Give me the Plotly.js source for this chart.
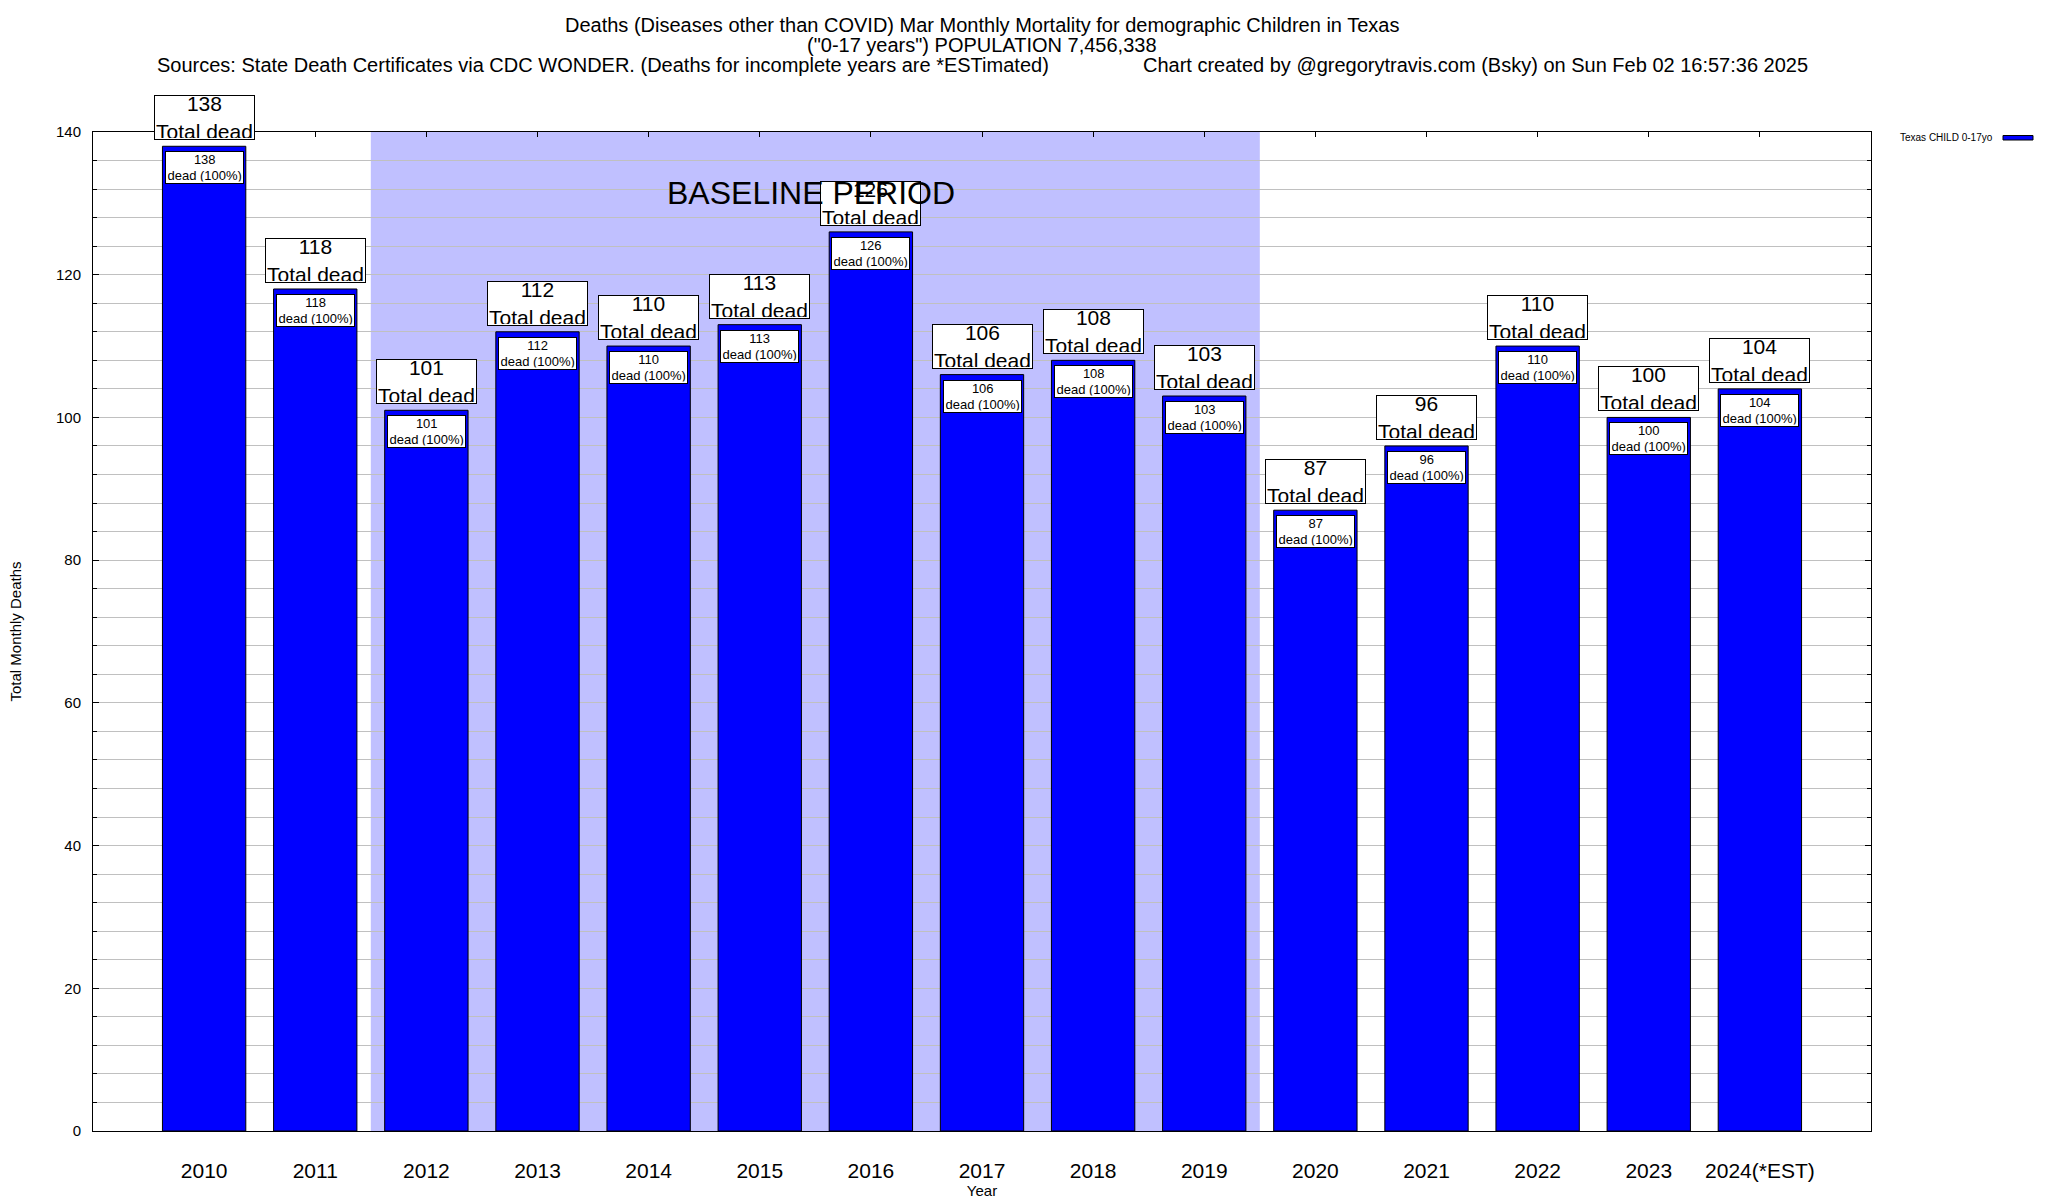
<!DOCTYPE html>
<html>
<head>
<meta charset="utf-8">
<script src="https://cdn.plot.ly/plotly-3.0.1.min.js"></script>
<style>html,body{margin:0;padding:0;background:#fff;}#chart{width:2048px;height:1200px;}</style>
</head>
<body>
<div id="chart"></div>
<script>
// ---- data ----
const years = ["2010","2011","2012","2013","2014","2015","2016","2017","2018","2019","2020","2021","2022","2023","2024(*EST)"];
const deaths = [138,118,101,112,110,113,126,106,108,103,87,96,110,100,104];
const pctLabels = ["100%","100%","100%","100%","100%","100%","100%","100%","100%","100%","100%","100%","100%","100%","100%"];
const seriesName = "Texas CHILD 0-17yo";
const baselineStart = "2012";
const baselineEnd = "2019";
const baselineLabel = "BASELINE PERIOD";
const titleLines = [
  "Deaths (Diseases other than COVID) Mar Monthly Mortality for demographic Children in Texas",
  "(\"0-17 years\") POPULATION 7,456,338",
  "Sources: State Death Certificates via CDC WONDER. (Deaths for incomplete years are *ESTimated)",
  "Chart created by @gregorytravis.com (Bsky) on Sun Feb 02 16:57:36 2025"
];

// ---- layout geometry ----
const W = 2048, H = 1200;
const M = {l: 93, r: 177, t: 132, b: 69, pad: 0};
const PW = W - M.l - M.r, PH = H - M.t - M.b;
const Y_MAX = 140;
const pxPerUnit = PH / Y_MAX;
const px = x => (x - M.l) / PW;          // pixel -> paper x
const py = y => (H - M.b - y) / PH;      // pixel -> paper y
const FONT = "Liberation Sans, Arial, Helvetica, sans-serif";

const trace = {
  type: "bar",
  x: years,
  y: deaths,
  name: seriesName,
  width: 0.75,
  marker: {color: "#0000ff", line: {color: "#000000", width: 1}},
  showlegend: false,
  hoverinfo: "x+y"
};

const annotations = [];
// inner labels (anchored at bar top, shifted down)
years.forEach((yr, i) => {
  annotations.push({
    x: i, y: deaths[i], xref: "x", yref: "y", yshift: -3 * pxPerUnit,
    text: deaths[i] + "<br>dead (" + pctLabels[i] + ")",
    showarrow: false, xanchor: "center", yanchor: "middle",
    font: {family: FONT, size: 13, color: "#000"},
    bgcolor: "#ffffff", bordercolor: "#000000", borderwidth: 1, borderpad: 1.5,
    height: 28
  });
});
// top labels (anchored at bar top, shifted up)
years.forEach((yr, i) => {
  annotations.push({
    x: i, y: deaths[i], xref: "x", yref: "y", yshift: 4 * pxPerUnit,
    text: deaths[i] + "<br>Total dead",
    showarrow: false, xanchor: "center", yanchor: "middle",
    font: {family: FONT, size: 21, color: "#000"},
    bgcolor: "#ffffff", bordercolor: "#000000", borderwidth: 1, borderpad: 1,
    height: 41
  });
});
// baseline label
const b0 = years.indexOf(baselineStart), b1 = years.indexOf(baselineEnd);
annotations.push({
  x: (b0 + b1) / 2 - 0.04, y: 131.4, xref: "x", yref: "y",
  text: baselineLabel, showarrow: false, xanchor: "center", yanchor: "middle",
  font: {family: FONT, size: 32, color: "#000"}
});
// titles
annotations.push({x: 0.5, y: py(25), xref: "paper", yref: "paper", text: titleLines[0], showarrow: false,
  xanchor: "center", yanchor: "middle", font: {family: FONT, size: 20, color: "#000"}});
annotations.push({x: 0.5, y: py(45), xref: "paper", yref: "paper", text: titleLines[1], showarrow: false,
  xanchor: "center", yanchor: "middle", font: {family: FONT, size: 20, color: "#000"}});
annotations.push({x: px(155), y: py(65), xref: "paper", yref: "paper", text: titleLines[2], showarrow: false,
  xanchor: "left", yanchor: "middle", font: {family: FONT, size: 20, color: "#000"}});
annotations.push({x: px(1141), y: py(65), xref: "paper", yref: "paper", text: titleLines[3], showarrow: false,
  xanchor: "left", yanchor: "middle", font: {family: FONT, size: 20, color: "#000"}});
// legend text
annotations.push({x: px(1995), y: py(138), xref: "paper", yref: "paper", text: seriesName, showarrow: false,
  xanchor: "right", yanchor: "middle", font: {family: FONT, size: 10, color: "#000"}});

const shapes = [
  {type: "rect", xref: "x", yref: "y", x0: b0 - 0.5, x1: b1 + 0.5, y0: 0, y1: Y_MAX,
   fillcolor: "#c0c0ff", line: {width: 0}, layer: "below"},
  {type: "rect", xref: "paper", yref: "paper", x0: px(2003), x1: px(2033), y0: py(140), y1: py(135.5),
   fillcolor: "#0000ff", line: {color: "#000", width: 1}}
];

const layout = {
  width: W, height: H, margin: M,
  paper_bgcolor: "#ffffff", plot_bgcolor: "#ffffff",
  font: {family: FONT, color: "#000"},
  showlegend: false,
  bargap: 0.25,
  xaxis: {
    type: "category", range: [-1, years.length], categoryorder: "array", categoryarray: years,
    showline: true, linecolor: "#000", linewidth: 1, mirror: "ticks",
    ticks: "inside", ticklen: 5, tickcolor: "#000", showgrid: false, zeroline: false,
    tickfont: {family: FONT, size: 21, color: "#000"},
    ticklabelstandoff: 21, layer: "below traces",
    title: {text: "Year", font: {family: FONT, size: 15, color: "#000"}, standoff: 2}
  },
  yaxis: {
    range: [0, Y_MAX], tick0: 0, dtick: 20, autorange: false,
    showline: true, linecolor: "#000", linewidth: 1, mirror: "ticks",
    ticks: "inside", ticklen: 6, tickcolor: "#000",
    showgrid: true, gridcolor: "#c0c0c0", gridwidth: 1, zeroline: false,
    tickfont: {family: FONT, size: 15, color: "#000"},
    ticklabelstandoff: 8,
    minor: {dtick: 4, tick0: 0, ticks: "inside", ticklen: 4, tickcolor: "#000", showgrid: true, gridcolor: "#c0c0c0", gridwidth: 1},
    title: {text: "Total Monthly Deaths", font: {family: FONT, size: 15, color: "#000"}, standoff: 30}
  },
  annotations: annotations,
  shapes: shapes
};

Plotly.newPlot("chart", [trace], layout, {displayModeBar: false, responsive: false});
</script>
</body>
</html>
